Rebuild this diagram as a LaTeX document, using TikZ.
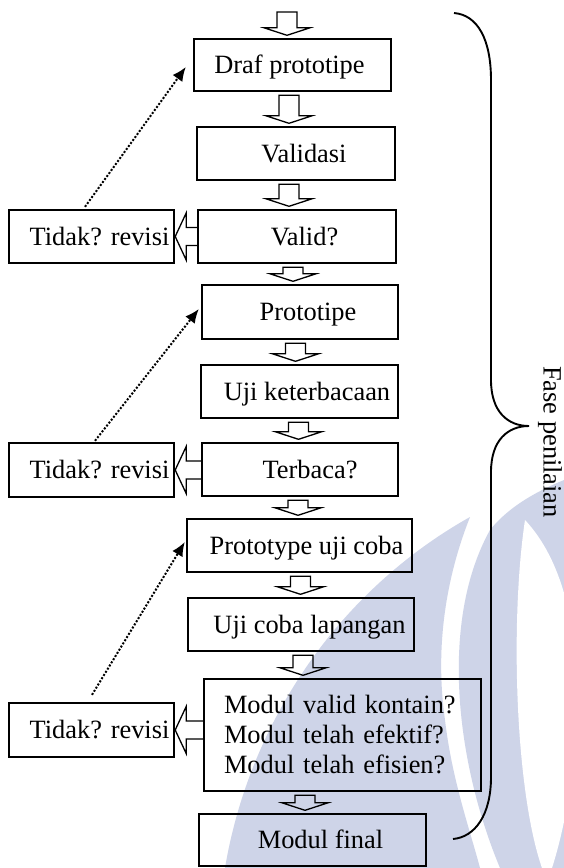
\documentclass[tikz,border=0pt]{standalone}
\usepackage{fontspec}
\setmainfont{Liberation Serif}
\usetikzlibrary{arrows.meta,calc}
\definecolor{wm}{RGB}{206,212,232}
\tikzset{
  flowbox/.style={draw, line width=2.4pt, inner sep=0pt,
    font=\fontsize{26.4}{30}\selectfont, text height=18pt, text depth=0.5pt},
  multibox/.style={draw, line width=2.4pt, inner xsep=20pt, inner ysep=0pt,
    font=\fontsize{26.4}{30}\selectfont, align=left},
  hollow/.style={draw, line width=1.3pt, line join=miter},
  dotline/.style={line width=2pt, dash pattern=on 2pt off 1.7pt,
    -{Latex[length=14pt,width=12pt]}},
  bracestyle/.style={line width=1.9pt},
}
\newcommand\dnarrow[3]{%
  \path[hollow] let \p1=(#2), \p2=(#3) in
    ({#1pt-10pt},{\y1-3pt}) -- ({#1pt-10pt},{\y2+10pt}) -- ({#1pt-23pt},{\y2+10pt})
    -- ({#1pt},{\y2+2.5pt}) -- ({#1pt+23pt},{\y2+10pt}) -- ({#1pt+10pt},{\y2+10pt})
    -- ({#1pt+10pt},{\y1-3pt}) -- cycle;}
\newcommand\lfarrow[2]{%
  \path[hollow] let \p1=(#1.west), \p2=(#2.east) in
    (\x1,{\y2+9pt}) -- ({\x2+11pt},{\y2+9pt}) -- ({\x2+11pt},{\y2+23.5pt})
    -- (\x2,\y2) -- ({\x2+11pt},{\y2-23.5pt}) -- ({\x2+11pt},{\y2-9pt}) -- (\x1,{\y2-9pt});}
\begin{document}
\begin{tikzpicture}[x=1pt,y=-1pt]
\fill[white] (0,0) rectangle (564,868);
\useasboundingbox (0,0) rectangle (564,868);
% watermark
\begin{scope}
\clip (0,0) rectangle (564,868);
\fill[wm] (225,868) .. controls (250,720) and (340,590) .. (470,517)
  .. controls (445,580) and (435,650) .. (445,720)
  .. controls (452,780) and (470,830) .. (480,868) -- cycle;
\fill[wm] (500,868) .. controls (455,760) and (440,620) .. (490,530)
  .. controls (510,505) and (540,490) .. (564,480) -- (564,868) -- cycle;
\fill[white] (525,520) .. controls (510,620) and (515,790) .. (542,868)
  -- (552,868) .. controls (580,780) and (600,600) .. (525,520) -- cycle;
\end{scope}
% main column
\node[flowbox, minimum width=197pt, minimum height=52pt] (draf) at (292.5,65) {\hspace*{-6pt}Draf prototipe};
\node[flowbox, minimum width=198pt, minimum height=53pt] (valdsi) at (296,153.5) {\hspace*{16pt}Validasi};
\node[flowbox, minimum width=198pt, minimum height=53pt] (valid) at (297,236.5) {\hspace*{15pt}Valid?};
\node[flowbox, minimum width=196pt, minimum height=54pt] (proto) at (300,312) {\hspace*{16pt}Prototipe};
\node[flowbox, minimum width=197pt, minimum height=53pt] (ujik) at (299.5,391.5) {\hspace*{15pt}Uji keterbacaan};
\node[flowbox, minimum width=196pt, minimum height=53pt] (terbaca) at (300,469.5) {\hspace*{20pt}Terbaca?};
\node[flowbox, minimum width=225pt, minimum height=53pt] (puc) at (299.5,545.5) {\hspace*{14pt}Prototype uji coba};
\node[flowbox, minimum width=226pt, minimum height=53pt] (ucl) at (301,624.5) {\hspace*{17pt}Uji coba lapangan};
\node[multibox, text width=237pt, minimum height=112pt] (modul) at (342.5,735)
  {Modul valid kontain?\\Modul telah efektif?\\Modul telah efisien?};
\node[flowbox, minimum width=227pt, minimum height=52pt] (final) at (312.5,840) {\hspace*{16pt}Modul final};
% revision boxes
\node[flowbox, minimum width=165pt, minimum height=53pt] (t1) at (91.5,236.5) {\hspace*{16pt}Tidak? revisi};
\node[flowbox, minimum width=165pt, minimum height=54pt] (t2) at (91.5,470) {\hspace*{16pt}Tidak? revisi};
\node[flowbox, minimum width=165pt, minimum height=54pt] (t3) at (91.5,730) {\hspace*{16pt}Tidak? revisi};
% block arrows down
\coordinate (in) at (287,9);
\dnarrow{287}{in}{draf.north}
\dnarrow{289}{draf.south}{valdsi.north}
\dnarrow{289}{valdsi.south}{valid.north}
\dnarrow{293}{valid.south}{proto.north}
\dnarrow{295.5}{proto.south}{ujik.north}
\dnarrow{298.5}{ujik.south}{terbaca.north}
\dnarrow{298}{terbaca.south}{puc.north}
\dnarrow{300.5}{puc.south}{ucl.north}
\dnarrow{303}{ucl.south}{modul.north}
\dnarrow{305}{modul.south}{final.north}
% block arrows left
\lfarrow{valid}{t1}
\lfarrow{terbaca}{t2}
\lfarrow{modul}{t3}
% dotted feedback arrows
\draw[dotline] ([xshift=-6.5pt,yshift=2pt]t1.north) -- ([xshift=-7pt,yshift=-2pt]draf.west);
\draw[dotline] ([xshift=3.5pt,yshift=1pt]t2.north) -- ([xshift=-2pt,yshift=3pt]proto.west);
\draw[dotline] ([xshift=0.5pt,yshift=7pt]t3.north) -- ([xshift=-1pt,yshift=3.5pt]puc.west);
% brace and label
\draw[bracestyle] (454,13) .. controls (478,15) and (491,40) .. (491,80) -- (491,380)
  .. controls (491,412) and (508,426) .. (529,426)
  .. controls (508,426) and (491,440) .. (491,472) -- (491,777)
  .. controls (491,815) and (475,837) .. (453,839);
\node[font=\fontsize{26.4}{30}\selectfont, rotate=-90, inner sep=0pt] (fase) at (550,442) {Fase penilaian};
\end{tikzpicture}
\end{document}
